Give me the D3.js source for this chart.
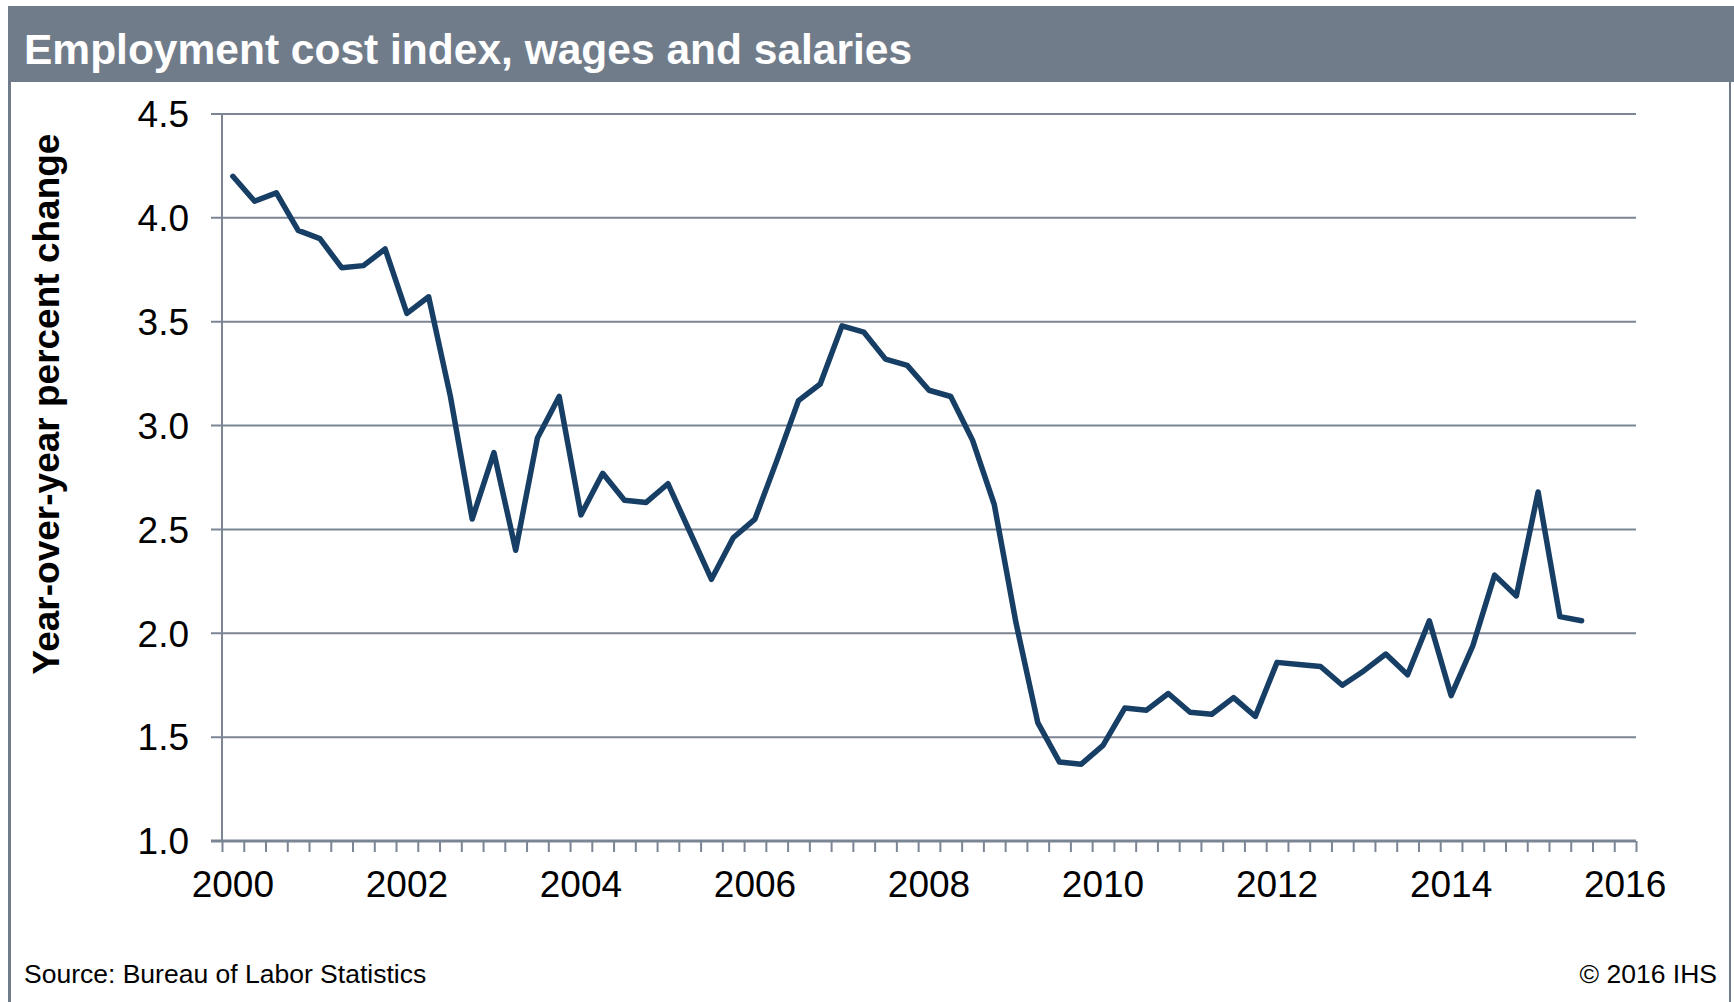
<!DOCTYPE html>
<html>
<head>
<meta charset="utf-8">
<script src="https://cdn.jsdelivr.net/npm/d3@7"></script>
<style>
  body { margin: 0; background: #fff; }
  svg { display: block; }
</style>
</head>
<body>
<div id="chart"></div>
<script>
// Quarterly categories on the axis: 2000Q1 .. 2016Q1 (65 slots)
const firstYear = 2000;
const quarterCount = 65;
const quarters = d3.range(quarterCount).map(i => `${firstYear + Math.floor(i / 4)}Q${(i % 4) + 1}`);

// Year-over-year percent change, 2000Q1 .. 2015Q3
const wageGrowth = [
  4.20, 4.08, 4.12, 3.94, 3.90, 3.76, 3.77, 3.85,
  3.54, 3.62, 3.14, 2.55, 2.87, 2.40, 2.94, 3.14,
  2.57, 2.77, 2.64, 2.63, 2.72, 2.49, 2.26, 2.46,
  2.55, 2.83, 3.12, 3.20, 3.48, 3.45, 3.32, 3.29,
  3.17, 3.14, 2.93, 2.62, 2.05, 1.57, 1.38, 1.37,
  1.46, 1.64, 1.63, 1.71, 1.62, 1.61, 1.69, 1.60,
  1.86, 1.85, 1.84, 1.75, 1.82, 1.90, 1.80, 2.06,
  1.70, 1.94, 2.28, 2.18, 2.68, 2.08, 2.06
];

const yearLabels = ["2000", "2002", "2004", "2006", "2008", "2010", "2012", "2014", "2016"];
const yTicks = [1.0, 1.5, 2.0, 2.5, 3.0, 3.5, 4.0, 4.5];

const title = "Employment cost index, wages and salaries";
const yTitle = "Year-over-year percent change";
const sourceNote = "Source: Bureau of Labor Statistics";
const copyrightNote = "\u00A9 2016 IHS";

const width = 1734;
const height = 1002;
const plot = { left: 222, right: 1636, top: 114, bottom: 841 };

const frameColor = "#717c8b";
const gridColor = "#7b8594";
const lineColor = "#173e65";
const font = "'Liberation Sans', Arial, Helvetica, sans-serif";

const svg = d3.select("#chart").append("svg")
  .attr("width", width)
  .attr("height", height)
  .attr("font-family", font);

// Frame: header band plus thin side rules
svg.append("rect")
  .attr("x", 8).attr("y", 6)
  .attr("width", width - 8).attr("height", 76)
  .attr("fill", frameColor);

svg.append("line")
  .attr("x1", 9.5).attr("x2", 9.5)
  .attr("y1", 82).attr("y2", height)
  .attr("stroke", frameColor).attr("stroke-width", 3);

svg.append("line")
  .attr("x1", 1730).attr("x2", 1730)
  .attr("y1", 82).attr("y2", height)
  .attr("stroke", frameColor).attr("stroke-width", 2);

svg.append("text")
  .attr("x", 24).attr("y", 64)
  .attr("fill", "#fff")
  .attr("font-size", 42.5)
  .attr("font-weight", "bold")
  .text(title);

// Scales: x is a slot index (each quarter is one unit wide)
const x = d3.scaleLinear()
  .domain([0, quarterCount])
  .range([plot.left, plot.right]);

const y = d3.scaleLinear()
  .domain([1, 4.5])
  .range([plot.bottom, plot.top]);

// Horizontal gridlines (they run past the y axis like outward ticks)
svg.append("g")
  .selectAll("line")
  .data(yTicks)
  .join("line")
  .attr("x1", plot.left - 11)
  .attr("x2", plot.right)
  .attr("y1", d => y(d))
  .attr("y2", d => y(d))
  .attr("stroke", gridColor)
  .attr("stroke-width", d => d === 1 ? 3 : 2);

// Y axis line
svg.append("line")
  .attr("x1", plot.left).attr("x2", plot.left)
  .attr("y1", plot.top).attr("y2", plot.bottom)
  .attr("stroke", gridColor).attr("stroke-width", 2);

// Quarter tick marks below the x axis
const xAxis = d3.axisBottom(x)
  .tickValues(d3.range(quarterCount + 1))
  .tickSize(11)
  .tickSizeOuter(0)
  .tickFormat("");

const xAxisG = svg.append("g")
  .attr("transform", `translate(0,${plot.bottom})`)
  .call(xAxis);
xAxisG.select(".domain").remove();
xAxisG.selectAll(".tick line")
  .attr("stroke", gridColor)
  .attr("stroke-width", 2);

// Year labels sit in the first-quarter slot of every second year
svg.append("g")
  .selectAll("text")
  .data(yearLabels)
  .join("text")
  .attr("x", d => x(quarters.indexOf(`${d}Q1`) + 0.5))
  .attr("y", 897)
  .attr("text-anchor", "middle")
  .attr("font-size", 37)
  .attr("fill", "#000")
  .text(d => d);

// Y tick labels
svg.append("g")
  .selectAll("text")
  .data(yTicks)
  .join("text")
  .attr("x", 189)
  .attr("y", d => y(d))
  .attr("dy", "0.36em")
  .attr("text-anchor", "end")
  .attr("font-size", 37)
  .attr("fill", "#000")
  .text(d => d.toFixed(1));

svg.append("text")
  .attr("transform", "translate(59,404) rotate(-90)")
  .attr("text-anchor", "middle")
  .attr("font-size", 37)
  .attr("font-weight", "bold")
  .attr("fill", "#000")
  .text(yTitle);

// The series
const line = d3.line()
  .x((d, i) => x(i + 0.5))
  .y(d => y(d));

svg.append("path")
  .datum(wageGrowth)
  .attr("d", line)
  .attr("fill", "none")
  .attr("stroke", lineColor)
  .attr("stroke-width", 5.5)
  .attr("stroke-linejoin", "round")
  .attr("stroke-linecap", "round");

// Footer notes
svg.append("text")
  .attr("x", 24).attr("y", 983)
  .attr("font-size", 26.5)
  .attr("fill", "#000")
  .text(sourceNote);

svg.append("text")
  .attr("x", 1717).attr("y", 983)
  .attr("text-anchor", "end")
  .attr("font-size", 26.5)
  .attr("fill", "#000")
  .text(copyrightNote);
</script>
</body>
</html>
